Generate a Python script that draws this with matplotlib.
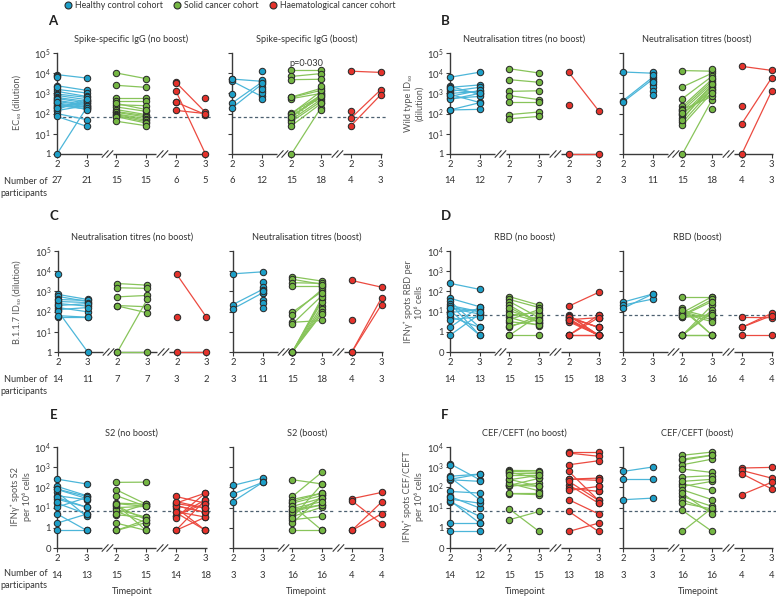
import matplotlib
matplotlib.use("Agg")
import matplotlib.pyplot as plt
import numpy as np
from matplotlib.lines import Line2D

plt.rcParams['font.family'] = ['Lato', 'DejaVu Sans']
plt.rcParams['mathtext.fontset'] = 'custom'
plt.rcParams['mathtext.rm'] = 'Lato'

W, H = 776, 597

BLUE, GREEN, RED = '#1d9fc8', '#75b743', '#e5322b'
BLUE_L, GREEN_L, RED_L = '#4cb6d9', '#88c45a', '#ec4a40'
MARKER_COLORS = [BLUE, GREEN, RED]
LINE_COLORS = [BLUE_L, GREEN_L, RED_L]
COHORTS = ['Healthy control cohort', 'Solid cancer cohort', 'Haematological cancer cohort']
TIMEPOINTS = ['2', '3', '2', '3', '2', '3']

# values are log10 of the measurement; in D-F, -1 stands for 0
# each cohort: (timepoint 2, timepoint 3); same index = same participant, None = missing
A_NB = [
    ([3.93, 3.38, 3.2, 3.1, 2.97, 2.9, 2.8, 2.75, 2.65, 2.6, 2.52, 2.45, 2.4, 2.35, 2.28, 2.2, 2.15, 2.0, 1.86, 0, 2.5, 3.85, 3.8, 3.3, 2.7, 2.55, 2.3],
     [3.76, 3.15, 3.02, 2.85, 2.8, 2.69, 2.6, 2.52, 2.45, 2.4, 2.35, 2.3, 2.23, 2.5, 2.6, 2.7, 2.4, 1.7, 1.37, 2.3, 2.2]),
    ([4.01, 3.4, 2.77, 2.6, 2.44, 2.33, 2.2, 2.1, 2.06, 1.98, 1.95, 1.9, 1.85, 1.62, 2.5],
     [3.73, 3.3, 2.77, 2.6, 2.39, 2.11, 1.95, 1.9, 1.83, 1.75, 1.67, 1.6, 1.53, 1.4, 2.2]),
    ([3.55, 3.13, 2.57, 2.16, None, 3.5, 2.55],
     [2.06, 0, 1.95, 2.0, 2.77]),
]
A_B = [
    ([3.71, 3.61, 2.52, 2.28, 2.97, 3.7],
     [3.6, 2.85, 3.55, 3.45, None, None, 4.1, 3.3, 3.1, 3.0, 2.72, 3.65, 3.2, 3.5]),
    ([4.17, 3.84, 3.68, 2.82, 2.74, 2.03, 1.9, 1.8, 1.7, 1.6, 1.4, 0, 2.0, 1.85, 2.8],
     [4.17, 3.98, 3.7, 3.25, 3.0, 2.9, 2.8, 2.95, 2.7, 2.6, 2.5, 2.3, 3.1, 2.85, 3.15, 2.19, 2.5, 3.35]),
    ([4.1, 1.77, 1.39, 2.15],
     [4.04, 3.17, 2.92]),
]
A_B_SOLID_DASHED = ([2.0, 1.85, 1.7], [2.75, 2.85, 2.95])

B_NB = [
    ([3.8, 3.35, 3.3, 3.2, 3.1, 3.0, 2.95, 2.85, 2.75, 2.7, 2.18, 2.18, 3.25, 2.9],
     [4.05, 2.95, 3.42, 3.0, 3.3, 3.1, 2.55, 3.15, 2.85, 3.0, 2.21, 2.54]),
    ([4.22, 3.68, 3.1, 2.89, 2.57, 1.95, 1.75],
     [4.01, 3.55, 3.13, 2.69, 2.57, 2.08, 1.86]),
    ([4.04, 0, 2.44],
     [2.15, 0]),
]
B_B = [
    ([4.06, 2.64, 2.57],
     [4.0, 3.8, 3.7, 4.06, 3.9, 3.6, 3.45, 3.3, 3.1, 2.9, 3.55]),
    ([4.13, 3.32, 2.74, 2.36, 2.25, 2.13, 1.95, 1.8, 1.57, 1.42, 0, 2.2, 1.7, 2.0, 2.05],
     [4.1, 4.0, 3.85, 3.7, 3.6, 3.5, 3.4, 3.3, 3.2, 3.05, 2.69, 2.85, 3.45, 3.15, 3.0, 4.2, 3.75, 2.23]),
    ([4.34, 1.5, 0, 2.39],
     [4.14, 3.76, 3.1]),
]

C_NB = [
    ([2.85, 2.75, 2.6, 2.5, 2.4, 2.3, 2.2, 2.1, 1.72, 2.02, 1.8, 3.84, 2.35, 2.55],
     [2.6, 2.5, 2.55, 2.45, 2.27, 2.4, 1.99, 2.2, 1.72, 0, 1.72]),
    ([3.39, 3.18, 2.73, 2.3, 2.28, 0, 0],
     [3.31, 3.15, 2.8, 2.24, 1.94, 2.6, 0]),
    ([3.84, 0, 1.72],
     [1.72, 0]),
]
C_B = [
    ([3.87, 2.35, 2.14],
     [3.97, 3.1, 2.93, 3.48, 3.2, 3.05, 2.55, 2.45, 2.19, 2.9, 3.0]),
    ([3.73, 3.6, 3.43, 3.26, 1.97, 1.85, 1.47, 1.39, 0, 0, 0, 0, 0, 0, 0],
     [3.51, 3.35, 3.4, 3.26, 3.0, 3.1, 1.56, 2.8, 2.6, 2.3, 2.14, 2.0, 1.9, 2.5, 2.7, 3.2, 2.9, 3.3]),
    ([3.54, 0, 0, 1.57],
     [3.21, 2.68, 2.35]),
]

D_NB = [
    ([2.4, 1.66, 1.52, 1.4, 1.3, 1.16, 1.05, 0.95, 0.75, 0.22, -0.17, 0.6, 1.2, 0.9],
     [2.1, 1.24, 0.22, -0.17, 1.0, 0.88, -0.17, 1.13, 0.22, 1.24, 0.88, 0.75, 1.0]),
    ([1.74, 1.6, 1.5, 1.32, 1.04, 0.83, 0.71, 0.22, -0.17, -0.17, 1.2, 0.9, 0.5, 0.6, 0.3],
     [1.32, 1.2, 0.7, 0.45, 0.6, 0.95, 0.3, 0.8, 0.83, -0.17, 0.45, 0.5, 0.35, 1.1, 0.6]),
    ([1.27, 0.83, 0.71, 0.58, -0.17, 0.8, 0.6, -0.17, 0.7, 0.5, -0.17, 0.65, 0.75, 0.58, -0.17],
     [1.95, -0.17, 0.22, -0.17, 0.83, -0.17, 0.7, -0.17, 0.22, -0.17, 0.7, -0.17, 0.22, -0.17, -0.17, 0.83, 0.7, -0.17]),
]
D_B = [
    ([1.47, 1.32, 1.16],
     [1.87, 1.62, 1.87]),
    ([1.7, 1.19, 1.08, 0.95, 0.83, 0.71, -0.17, -0.17, -0.17, -0.17, 1.0, 0.9, 0.75, -0.17, 1.1, 0.8],
     [1.7, -0.17, 0.7, 1.74, 1.6, 0.83, -0.17, 1.32, 1.08, 0.95, 0.6, 0.5, 0.83, -0.17, -0.17, 1.5]),
    ([0.71, 0.22, 0.22, -0.17],
     [0.7, 0.91, 0.8, -0.17]),
]

E_NB = [
    ([2.41, 2.05, 1.92, 1.77, 1.59, 1.42, 1.22, 1.02, 0.69, 0.23, -0.13, 1.9, 1.5, 1.3],
     [2.17, 1.59, 1.55, 0.56, 1.39, 1.02, 0.68, 1.5, -0.13, 0.68, -0.13, 1.45, 1.02]),
    ([2.25, 1.88, 1.59, 1.22, 1.09, 0.81, 0.64, 0.23, -0.13, 1.0, 0.9, 1.15, 0.7, -0.13, 1.2],
     [2.26, 1.17, 1.06, 1.17, 0.4, 0.26, 0.53, -0.13, 0.26, 1.06, 0.53, -0.13, 1.17, 0.4, 1.06]),
    ([1.55, 1.22, 1.09, 0.76, 0.56, -0.13, 1.2, 1.0, 0.6, 1.1, -0.13, 0.8, 1.3, 0.5],
     [1.22, 1.72, 0.76, -0.13, 1.39, 0.53, 0.98, -0.13, 1.22, 0.76, 1.39, 0.53, 0.98, 1.72, 0.8, 1.2, -0.13, 1.0]),
]
E_B = [
    ([2.1, 1.67, 1.3],
     [2.46, 2.25, 2.25]),
    ([2.38, 1.55, 1.4, 1.22, 1.06, 0.9, 0.56, 0.4, 0.23, -0.13, 1.3, 0.7, 1.1, 0.8, 0.5, 0.95],
     [2.17, 2.76, 1.72, 1.6, 1.47, 1.14, 1.02, 0.56, 1.6, -0.13, 1.72, 1.47, -0.13, 1.14, 2.17, 1.3]),
    ([1.44, 1.34, -0.13, -0.13],
     [1.75, 0.2, 1.27, 0.69]),
]

F_NB = [
    ([3.17, 2.55, 2.38, 1.8, 1.55, 1.42, 1.3, 0.23, -0.18, 2.4, 1.35, 2.5, 1.5, 3.1],
     [2.38, 2.66, 2.3, 1.72, 0.98, 1.22, 0.56, 0.23, -0.18, 2.66, 0.23, 1.39]),
    ([2.84, 2.71, 2.38, 2.13, 2.05, 1.69, 0.93, 0.4, 2.8, 2.75, 2.1, 2.2, 1.7, 2.4, 2.6],
     [2.83, 2.71, 2.6, 2.05, 2.21, 1.64, -0.18, 0.81, 2.75, 2.45, 2.45, 1.83, 1.7, 2.05, 2.6]),
    ([3.74, 3.7, 3.12, 2.79, 2.41, 2.41, 2.13, 1.97, 1.85, 1.39, 0.81, -0.18, 2.3],
     [3.74, 3.54, 3.32, 1.36, 2.46, 2.35, 1.22, 1.8, 2.05, 0.69, -0.18, 0.23, 1.36, 2.46, 2.35, 1.8, 2.05, 1.22]),
]
F_B = [
    ([2.79, 2.41, 1.39],
     [3.01, 2.41, 1.47]),
    ([3.59, 3.34, 3.12, 2.91, 2.51, 2.18, 2.05, 1.88, 1.55, 1.39, 1.22, 0.86, -0.18, 3.4, 2.3, 1.7],
     [3.75, 3.59, 3.4, 2.74, 2.58, 1.85, 2.3, 1.39, 1.06, 0.81, 0.93, -0.18, 0.98, 3.6, 2.4, 0.69]),
    ([2.96, 2.84, 2.68, 1.64],
     [2.99, 2.46, 1.93, 2.25]),
]

# number of participants per tick
N_A = ([27, 21, 15, 15, 6, 5], [6, 12, 15, 18, 4, 3])
N_B = ([14, 12, 7, 7, 3, 2], [3, 11, 15, 18, 4, 3])
N_C = ([14, 11, 7, 7, 3, 2], [3, 11, 15, 18, 4, 3])
N_D = ([14, 13, 15, 15, 15, 18], [3, 3, 16, 16, 4, 4])
N_E = ([14, 13, 15, 15, 14, 18], [3, 3, 16, 16, 4, 4])
N_F = ([14, 12, 15, 15, 13, 18], [3, 3, 16, 16, 4, 4])

TICKS_TITRE = ['1', r'$\mathregular{10^{1}}$', r'$\mathregular{10^{2}}$', r'$\mathregular{10^{3}}$',
               r'$\mathregular{10^{4}}$', r'$\mathregular{10^{5}}$']
TICKS_SPOTS = ['0', '1', r'$\mathregular{10^{1}}$', r'$\mathregular{10^{2}}$', r'$\mathregular{10^{3}}$',
               r'$\mathregular{10^{4}}$']

UX, UY = 29.7, 20.2
AX_COL = '#3a3a3a'
TXT = '#333333'
DASH = '#4d6070'
FS = 6.6

fig = plt.figure(figsize=(W / 100, H / 100), dpi=100)


def px(x, y):
    return x / W, 1 - y / H


def make_axes(x0, ybot, ylo, yhi):
    xl, xr = -0.35, 5.35
    yl, yr = ylo - 0.2, yhi + 0.2
    left = x0 + xl * UX
    bottom_px = ybot + 0.2 * UY
    ax = fig.add_axes([left / W, 1 - bottom_px / H, (xr - xl) * UX / W, (yr - yl) * UY / H])
    ax.set_xlim(xl, xr)
    ax.set_ylim(yl, yr)
    ax.patch.set_alpha(0)
    return ax


def draw_sub(ax, data, counts, ylo, yhi, ticklabels, show_ylabels, dash_y,
             title, show_numbers):
    for s in ['top', 'right']:
        ax.spines[s].set_visible(False)
    ax.spines['left'].set_position(('data', 0))
    ax.spines['left'].set_bounds(ylo, yhi)
    ax.spines['left'].set_color(AX_COL)
    ax.spines['left'].set_linewidth(1.0)
    ax.spines['bottom'].set_position(('data', ylo))
    ax.spines['bottom'].set_color('none')

    ax.set_yticks(np.arange(ylo, yhi + 1))
    if show_ylabels:
        ax.set_yticklabels(ticklabels)
    else:
        ax.set_yticklabels([])
    ax.set_xticks(range(6))
    ax.set_xticklabels(TIMEPOINTS)
    ax.tick_params(axis='both', direction='out', length=3, width=0.8, color=AX_COL,
                   labelsize=FS + 0.2, labelcolor=TXT, pad=1.5)

    # broken x axis
    for a, b in [(0, 1.5), (1.9, 3.35), (3.75, 5.05)]:
        ax.plot([a, b], [ylo, ylo], color=AX_COL, lw=1.0, clip_on=False, zorder=2,
                solid_capstyle='butt')
    for c in [1.7, 3.55]:
        for off in (-0.08, 0.08):
            ax.plot([c + off - 0.1, c + off + 0.1], [ylo - 0.16, ylo + 0.16],
                    color=AX_COL, lw=0.8, clip_on=False, zorder=2)

    if dash_y is not None:
        for g in range(3):
            a = max(0, 2 * g - 0.45)
            b = min(5.2, 2 * g + 1.4)
            ax.plot([a, b], [dash_y, dash_y], ls=(0, (2.5, 2)), color=DASH, lw=0.9, zorder=1)

    for g, (t2, t3) in enumerate(data):
        for v2, v3 in zip(t2, t3):
            if v2 is not None and v3 is not None:
                ax.plot([2 * g, 2 * g + 1], [v2, v3], color=LINE_COLORS[g], lw=0.9,
                        zorder=3, clip_on=False)
        for k, vals in enumerate((t2, t3)):
            ys = [v for v in vals if v is not None]
            ax.plot([2 * g + k] * len(ys), ys, ls='none', marker='o', ms=4.6,
                    mfc=MARKER_COLORS[g], mec='#2b2b2b', mew=0.75, zorder=4, clip_on=False)

    ax.annotate(title, xy=(2.5, yhi), xytext=(0, 14), textcoords='offset pixels',
                ha='center', va='center', fontsize=FS, color=TXT)
    if show_numbers:
        for x, n in enumerate(counts):
            ax.annotate(str(n), xy=(x, ylo), xytext=(0, -27), textcoords='offset pixels',
                        ha='center', va='center', fontsize=FS + 0.2, color=TXT)


PANELS = [
    # letter, letter pos, x0 (no boost, boost), y bottom px, range, data, counts, dashed, titles, ticklabels
    ('A', (48, 21), (57, 232), 154, (0, 5), (A_NB, A_B), N_A, 1.85,
     ('Spike-specific IgG (no boost)', 'Spike-specific IgG (boost)'), TICKS_TITRE),
    ('B', (441, 21), (450, 623), 154, (0, 5), (B_NB, B_B), N_B, None,
     ('Neutralisation titres (no boost)', 'Neutralisation titres (boost)'), TICKS_TITRE),
    ('C', (50, 216), (58, 233), 352, (0, 5), (C_NB, C_B), N_C, None,
     ('Neutralisation titres (no boost)', 'Neutralisation titres (boost)'), TICKS_TITRE),
    ('D', (441, 216), (450, 623), 352, (-1, 4), (D_NB, D_B), N_D, 0.83,
     ('RBD (no boost)', 'RBD (boost)'), TICKS_SPOTS),
    ('E', (50, 415), (57, 233), 548, (-1, 4), (E_NB, E_B), N_E, 0.85,
     ('S2 (no boost)', 'S2 (boost)'), TICKS_SPOTS),
    ('F', (441, 415), (450, 623), 548, (-1, 4), (F_NB, F_B), N_F, 0.85,
     ('CEF/CEFT (no boost)', 'CEF/CEFT (boost)'), TICKS_SPOTS),
]

axes = {}
for letter, lpos, x0s, ybot, (ylo, yhi), datas, counts, dash_y, titles, tl in PANELS:
    fig.text(*px(*lpos), letter, fontsize=9.5, fontweight='bold', color='#222222',
             ha='left', va='center')
    for j in range(2):
        ax = make_axes(x0s[j], ybot, ylo, yhi)
        draw_sub(ax, datas[j], counts[j], ylo, yhi, tl, j == 0, dash_y, titles[j], True)
        axes[(letter, j)] = ax

# extra dashed pairs in A boost, solid cancer cohort
ax = axes[('A', 1)]
for v2, v3 in zip(*A_B_SOLID_DASHED):
    ax.plot([2, 3], [v2, v3], color=GREEN_L, lw=0.9, ls=(0, (2, 1.5)), zorder=3)
ax.text(2.5, 4.5, 'p=0·030', ha='center', va='center', fontsize=FS, color=TXT)

# y labels
YLAB = dict(fontsize=FS, color='#555555', rotation=90, ha='center', va='center',
            linespacing=1.25)
fig.text(*px(17, 103), 'EC₅₀ (dilution)', **YLAB)
fig.text(*px(414, 103), 'Wild type ID₅₀\n(dilution)', **YLAB)
fig.text(*px(17, 302), 'B.1.1.7 ID₅₀ (dilution)', **YLAB)
fig.text(*px(414, 302), 'IFNγ⁺ spots RBD per\n10⁶ cells', **YLAB)
fig.text(*px(21, 497), 'IFNγ⁺ spots S2\nper 10⁶ cells', **YLAB)
fig.text(*px(413, 497), 'IFNγ⁺ spots CEF/CEFT\nper 10⁶ cells', **YLAB)

# row captions
for yrow in (181, 379, 574):
    fig.text(*px(4, yrow), 'Number of', fontsize=FS, color=TXT, ha='left', va='center')
    fig.text(*px(0, yrow + 12), 'participants', fontsize=FS, color=TXT, ha='left', va='center')
for xc in (132, 306, 525, 698):
    fig.text(*px(xc, 592), 'Timepoint', fontsize=FS, color=TXT, ha='center', va='center')

# legend
for (xm, xt), name, col in zip([(68, 75), (177, 184), (273, 280)], COHORTS, MARKER_COLORS):
    fig.add_artist(Line2D([xm / W], [1 - 5 / H], marker='o', ms=5, mfc=col, mec='#2b2b2b',
                          mew=0.8, ls='none', transform=fig.transFigure))
    fig.text(*px(xt, 5), name, fontsize=6.3, color=TXT, ha='left', va='center')

fig.savefig('out.png', dpi=100)
